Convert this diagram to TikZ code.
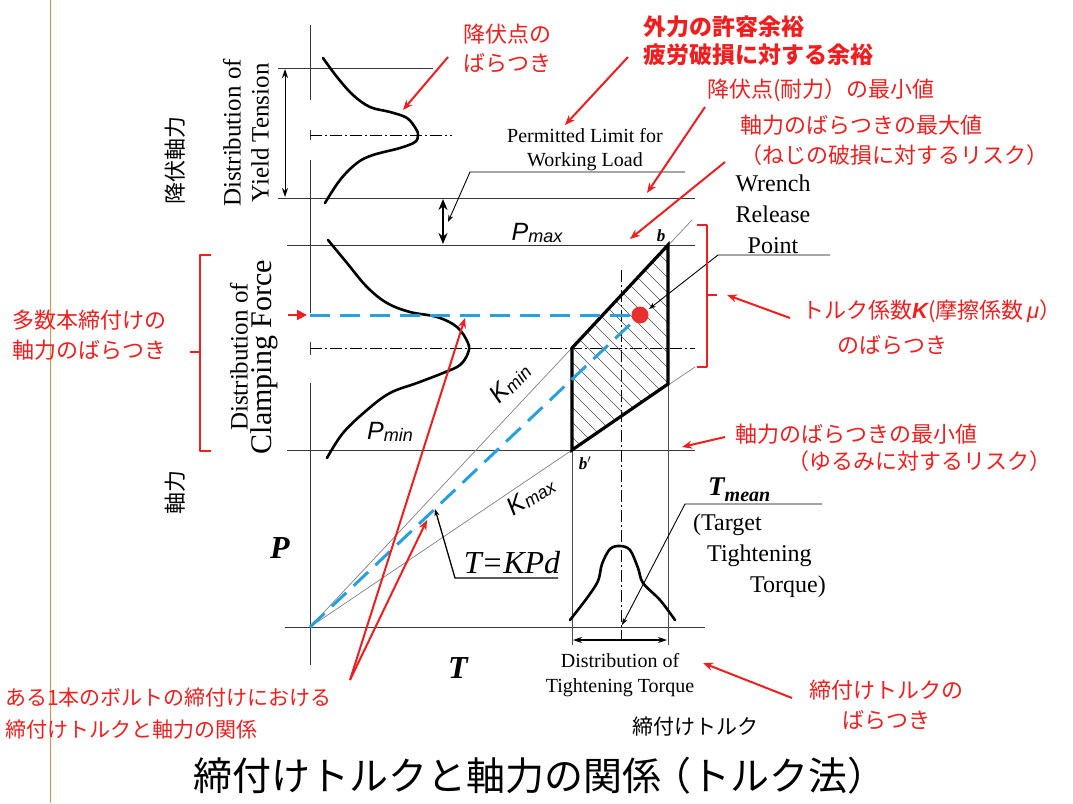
\documentclass[tikz,border=0pt]{standalone}
\usepackage{fontspec}
\setmainfont{Liberation Serif}
\newfontfamily\cjk{Noto Sans CJK JP}
\newfontfamily\arial{Liberation Sans}
\usetikzlibrary{arrows.meta}
\definecolor{myred}{RGB}{240,30,30}
\definecolor{myblue}{RGB}{40,160,220}
\definecolor{myorange}{RGB}{240,140,60}
\definecolor{dotred}{RGB}{232,48,48}
\definecolor{linegray}{RGB}{55,55,55}
\begin{document}
\begin{tikzpicture}[x=1pt,y=-1pt,
  redlbl/.style={text=myred,font=\cjk\fontsize{22}{29}\selectfont,align=left,inner sep=0pt},
  blklbl/.style={text=black,inner sep=0pt},
  redarrow/.style={myred,line width=2pt,-{Stealth[length=10pt,width=8pt]}},
  hline/.style={linegray,line width=1pt},
  thinline/.style={gray,line width=0.7pt},
  bellcurve/.style={black,line width=2.6pt,line cap=round},
  dashdotline/.style={black,line width=0.8pt,dash pattern=on 12pt off 3pt on 2pt off 3pt},
  leader/.style={black,line width=0.9pt,-{Stealth[length=7pt,width=5pt]}},
  bluedash/.style={myblue,line width=3pt,dash pattern=on 20pt off 10pt},
  redbracket/.style={myred,line width=2.4pt},
  hatch/.style={black!70,line width=0.6pt}]
\useasboundingbox (0,0) rectangle (1073,803);

% orange margin line
\draw[myorange,line width=1pt] (50,0) coordinate (or1) -- (50,803) coordinate (or2);

% key coordinates
\coordinate (O) at (310,627);
\coordinate (bp) at (572,450);
\coordinate (c1) at (572,348);
\coordinate (b) at (668,245);
\coordinate (c2) at (668,384);
\coordinate (kminend) at (692,220);
\coordinate (kmaxend) at (695,367);
\coordinate (dot) at (640,315);

% vertical P axis (broken)
\draw[hline] (310,25) -- (310,100);
\draw[hline] (310,130) -- (310,140);
\draw[hline] (310,160) -- (310,313);
\draw[hline] (310,342) -- (310,355);
\draw[hline] (310,383) -- (310,665);
% T axis
\draw[hline] (285,627) -- (705,627);

% horizontal lines
\draw[hline] (278,68) -- (433,68);
\draw[dashdotline] (310,135) -- (452,135);
\draw[hline] (278,198) -- (695,198);
\draw[hline] (287,245) -- (695,245);
\draw[dashdotline] (310,348) -- (695,348);
\draw[hline] (287,450) -- (695,450);

% verticals in torque region
\draw[thinline,black!70] (572,450) -- (572,645);
\draw[thinline,black!70] (668,384) -- (668,645);
\draw[dashdotline,line width=0.7pt] (621,270) -- (621,640);

% K lines
\draw[thinline] (O) -- (kminend);
\draw[thinline] (O) -- (kmaxend);

% hatching
\begin{scope}
\clip (bp) -- (c1) -- (b) -- (c2) -- cycle;
\foreach \i in {0,...,21} \draw[hatch] (340+\i*15,220) -- ++(300,300);
\end{scope}
\draw[black,line width=3.2pt,line join=miter] (bp) -- (c1) -- (b) -- (c2) -- cycle;

% bell curves
\draw[bellcurve] plot[smooth,tension=0.6] coordinates {(323,58) (337,77) (353,95) (370,107) (390,112) (407,118) (416,129) (418,135) (415,142) (400,148) (373,155) (357,163) (340,180) (325,203)};
\draw[bellcurve] plot[smooth,tension=0.6] coordinates {(328,240) (347,263) (367,287) (387,303) (410,312) (437,317) (457,327) (468,343) (468,353) (460,365) (443,373) (417,383) (390,393) (367,410) (343,433) (327,458)};
\draw[bellcurve] plot[smooth,tension=0.55] coordinates {(570,620) (587,598) (598,581) (602,564) (610,549) (620,546) (630,550) (638,568) (643,583) (660,600) (675,620)};

% double arrows
\draw[black,line width=1pt,{Stealth[length=9pt,width=6pt]}-{Stealth[length=9pt,width=6pt]}] (285,69) coordinate (dl1) -- (285,197) coordinate (dl2);
\draw[black,line width=2.6pt,{Stealth[length=11pt,width=9pt]}-{Stealth[length=11pt,width=9pt]}] (443,199) coordinate (pa1) -- (443,244) coordinate (pa2);
\draw[black,line width=1.4pt,{Stealth[length=9pt,width=6pt]}-{Stealth[length=9pt,width=6pt]}] (573,640) coordinate (ta1) -- (667,640) coordinate (ta2);

% blue dashed lines
\draw[bluedash] (310,315) -- (dot);
\draw[bluedash] (O) -- (dot);
\fill[dotred] (dot) circle (8.5);

% leaders
\coordinate (pl1) at (685,172);
\coordinate (pl2) at (470,172);
\draw[leader] (pl1) -- (pl2) -- (448,222);
\coordinate (wl1) at (830,255);
\coordinate (wl2) at (718,255);
\draw[leader] (wl1) -- (wl2) -- (649,309);
\coordinate (tl1) at (822,504);
\coordinate (tl2) at (685,504);
\draw[leader] (tl1) -- (tl2) -- (622,625);
\coordinate (kl1) at (558,578);
\coordinate (kl2) at (455,578);
\draw[leader,line width=1.3pt] (kl1) -- (kl2) -- (435,509);

% red brackets
\draw[redbracket,line join=round] (211,255) -- (200,255) -- (200,451) -- (211,451);
\draw[redbracket] (200,352) -- (190,352);
\draw[redbracket,line join=round] (697,225) -- (707,225) -- (707,367) -- (697,367);
\draw[redbracket] (707,295) -- (717,295);

% black texts
\node[blklbl,font=\fontsize{20}{24}\selectfont,align=center] (perm) at (585,150) {Permitted Limit for\\Working Load};
\node[blklbl,font=\fontsize{24}{31}\selectfont,align=center] (wrench) at (773,214) {Wrench\\Release\\Point};
\node[blklbl,font=\fontsize{20}{25}\selectfont,align=center] (distT) at (620,675) {Distribution of\\Tightening Torque};
\node[blklbl,font=\fontsize{24}{31}\selectfont,align=left,anchor=west] (target) at (693,556) {(Target\\\hspace*{14pt}Tightening\\\hspace*{57pt}Torque)};
\node[blklbl,anchor=west] (tmean) at (708,490) {{\fontsize{27}{27}\selectfont\bfseries\itshape T}{\fontsize{20}{20}\selectfont\bfseries\itshape\raisebox{-6pt}{mean}}};
\node[blklbl,rotate=90,align=center,font=\fontsize{25}{28}\selectfont] (yieldT) at (246,133) {Distribution of\\Yield Tension};
\node[blklbl,rotate=90,align=center] (clampF) at (254,357) {{\fontsize{25}{28}\selectfont Distribution of}\\[2pt]{\fontsize{30}{30}\selectfont Clamping Force}};
\node[blklbl,rotate=90,font=\cjk\fontsize{22}{22}\selectfont] (koufuku) at (175,160) {降伏軸力};
\node[blklbl,rotate=90,font=\cjk\fontsize{22}{22}\selectfont] (jikuryoku) at (175,492) {軸力};
\node[blklbl,font=\fontsize{32}{32}\selectfont\bfseries\itshape] (Plbl) at (280,548) {P};
\node[blklbl,font=\fontsize{32}{32}\selectfont\bfseries\itshape] (Tlbl) at (458,668) {T};
\node[blklbl,font=\fontsize{32}{32}\selectfont\itshape] (tkpd) at (512,563) {T=KPd};
\node[blklbl] (pmax) at (537,233) {{\arial\itshape\fontsize{25}{25}\selectfont P}{\arial\itshape\fontsize{18}{18}\selectfont\raisebox{-2pt}{max}}};
\node[blklbl] (pmin) at (390,432) {{\arial\itshape\fontsize{25}{25}\selectfont P}{\arial\itshape\fontsize{18}{18}\selectfont\raisebox{-2pt}{min}}};
\node[blklbl,rotate=46] (kmin) at (510,383) {{\arial\itshape\fontsize{25}{25}\selectfont K}{\arial\itshape\fontsize{18}{18}\selectfont\raisebox{-2pt}{min}}};
\node[blklbl,rotate=33] (kmax) at (531,496) {{\arial\itshape\fontsize{25}{25}\selectfont K}{\arial\itshape\fontsize{18}{18}\selectfont\raisebox{-2pt}{max}}};
\node[blklbl,font=\fontsize{17}{17}\selectfont\bfseries\itshape] (blbl) at (661,236) {b};
\node[blklbl,font=\fontsize{17}{17}\selectfont\bfseries\itshape] (bplbl) at (585,463) {b$'$};
\node[blklbl,font=\cjk\fontsize{21}{21}\selectfont] (shimetsuke) at (695,727) {締付けトルク};
\node[blklbl,font=\cjk\fontsize{39}{39}\selectfont] (title) at (540,776) {締付けトルクと軸力の関係\hspace{-9pt}（トルク法）};

% red texts
\node[redlbl,anchor=west] (r1) at (463,48) {降伏点の\\ばらつき};
\node[redlbl,anchor=west,font=\cjk\bfseries\fontsize{23}{28}\selectfont] (r2) at (643,41) {外力の許容余裕\\疲労破損に対する余裕};
\node[redlbl,anchor=west] (r3) at (707,90) {降伏点(耐力）の最小値};
\node[redlbl,anchor=west,font=\cjk\fontsize{22}{30}\selectfont] (r4) at (740,140) {軸力のばらつきの最大値\\（ねじの破損に対するリスク）};
\node[redlbl,anchor=west,font=\cjk\fontsize{22}{35}\selectfont] (r5) at (802,327) {トルク係数{\arial\bfseries\itshape K}(摩擦係数{\arial\itshape\,μ}）\\\hspace*{35pt}のばらつき};
\node[redlbl,anchor=west,font=\cjk\fontsize{22}{27}\selectfont] (r6) at (735,448) {軸力のばらつきの最小値\\\hspace*{52pt}（ゆるみに対するリスク）};
\node[redlbl,anchor=west,font=\cjk\fontsize{22}{30}\selectfont] (r7) at (12,335) {多数本締付けの\\軸力のばらつき};
\node[redlbl,anchor=west,font=\cjk\fontsize{21}{32}\selectfont] (r8) at (5,714) {ある1本のボルトの締付けにおける\\締付けトルクと軸力の関係};
\node[redlbl,align=center,font=\cjk\fontsize{22}{30}\selectfont] (r9) at (886,705) {締付けトルクの\\ばらつき};

% red arrows
\coordinate (ra1) at (448,57);   \coordinate (rb1) at (403,110);
\coordinate (ra2) at (628,57);   \coordinate (rb2) at (565,125);
\coordinate (ra3) at (705,107);  \coordinate (rb3) at (647,193);
\coordinate (ra4) at (725,162);  \coordinate (rb4) at (630,239);
\coordinate (ra5) at (790,318);  \coordinate (rb5) at (727,295);
\coordinate (ra6) at (725,437);  \coordinate (rb6) at (682,447);
\coordinate (ra7) at (792,698);  \coordinate (rb7) at (703,663);
\coordinate (ra8) at (350,680);  \coordinate (rb8) at (465,318);
\coordinate (rb9) at (427,520);
\draw[redarrow] (ra1) -- (rb1);
\draw[redarrow] (ra2) -- (rb2);
\draw[redarrow] (ra3) -- (rb3);
\draw[redarrow] (ra4) -- (rb4);
\draw[redarrow] (ra5) -- (rb5);
\draw[redarrow] (ra6) -- (rb6);
\draw[redarrow] (ra7) -- (rb7);
\draw[redarrow] (ra8) -- (rb8);
\draw[redarrow] (ra8) -- (rb9);
\coordinate (rs1) at (288,315); \coordinate (rs2) at (307,315);
\draw[myred,line width=2pt,-{Triangle[length=10pt,width=10pt]}] (rs1) -- (rs2);
\end{tikzpicture}
\end{document}
